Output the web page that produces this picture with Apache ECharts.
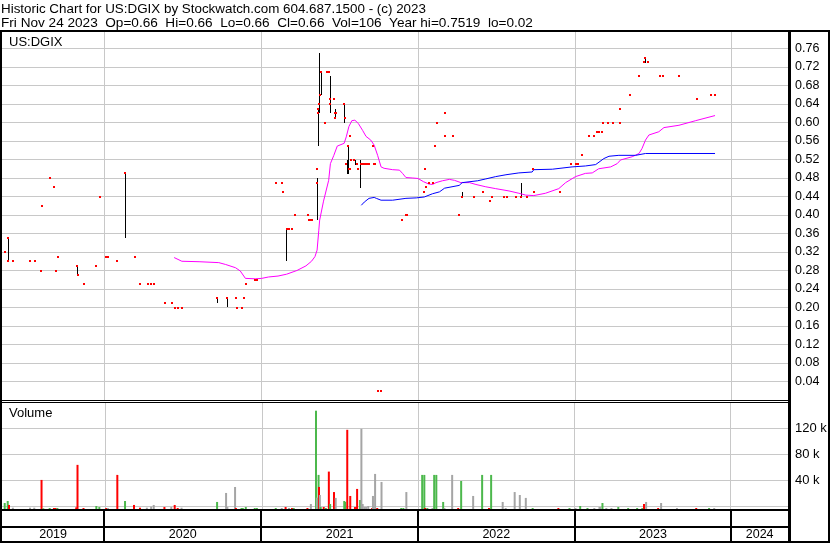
<!DOCTYPE html>
<html><head><meta charset="utf-8">
<script src="https://cdn.jsdelivr.net/npm/echarts@6/dist/echarts.min.js"></script>
<style>html,body{margin:0;padding:0;background:#fff}#c{width:830px;height:543px}</style>
</head><body><div id="c"></div>
<script>
// ---------- DATA ----------
const titleLine1 = 'Historic Chart for US:DGIX by Stockwatch.com 604.687.1500 - (c) 2023';
const titleLine2 = 'Fri Nov 24 2023  Op=0.66  Hi=0.66  Lo=0.66  Cl=0.66  Vol=106  Year hi=0.7519  lo=0.02';
const symbolName = 'US:DGIX';

const closeDates = ['2019-05-14','2019-05-21','2019-05-22','2019-06-02','2019-07-12','2019-07-23','2019-08-08','2019-08-10','2019-08-27','2019-09-06','2019-09-10','2019-09-15','2019-10-29','2019-10-31','2019-11-14','2019-12-14','2019-12-22',
'2020-01-06','2020-01-11','2020-02-01','2020-02-19','2020-03-12','2020-03-25','2020-04-11','2020-04-20','2020-04-27','2020-05-22','2020-06-07','2020-06-14','2020-06-21','2020-06-30','2020-09-21','2020-10-12','2020-11-02','2020-11-05','2020-11-16','2020-11-21','2020-11-27','2020-12-18','2020-12-23',
'2021-02-05','2021-02-19','2021-02-21','2021-03-02','2021-03-07','2021-03-14','2021-03-20','2021-04-19','2021-04-22','2021-04-26','2021-04-29','2021-05-10','2021-05-11','2021-05-12','2021-05-14','2021-05-16','2021-05-18','2021-05-21','2021-05-29','2021-06-03','2021-06-05','2021-06-08','2021-06-09','2021-06-11','2021-06-20','2021-06-21','2021-06-22','2021-06-23','2021-07-12','2021-07-14','2021-07-17','2021-07-21','2021-07-25','2021-07-26','2021-07-27','2021-07-29','2021-08-05','2021-08-11','2021-08-14',
'2021-08-22','2021-08-23','2021-08-24','2021-08-25','2021-08-26','2021-08-27','2021-08-30','2021-08-31','2021-09-01','2021-09-02','2021-09-03','2021-09-07','2021-09-08','2021-09-09','2021-09-18','2021-09-20','2021-09-21','2021-09-22','2021-09-23','2021-09-24','2021-09-29','2021-10-07','2021-11-25','2021-12-03','2021-12-06',
'2022-01-14','2022-01-18','2022-01-20','2022-01-26','2022-02-06','2022-02-10','2022-02-15','2022-03-04','2022-03-06','2022-03-24','2022-04-07','2022-04-13','2022-05-12','2022-06-02','2022-06-18','2022-06-23','2022-07-21','2022-07-28','2022-08-17','2022-08-28','2022-09-11','2022-09-27','2022-09-28','2022-11-28','2022-12-23',
'2023-01-03','2023-01-08','2023-01-17','2023-02-03','2023-02-16','2023-02-22','2023-02-26','2023-03-05','2023-03-09','2023-03-19','2023-03-31','2023-04-16','2023-04-17','2023-05-09','2023-05-31','2023-06-11','2023-06-15','2023-06-20','2023-07-18','2023-07-26','2023-09-01','2023-10-14','2023-11-14','2023-11-24'];
const closeValues = [0.32,0.35,0.30,0.30,0.30,0.30,0.28,0.42,0.48,0.46,0.28,0.31,0.29,0.27,0.25,0.29,0.44,
0.31,0.31,0.30,0.49,0.31,0.25,0.25,0.25,0.25,0.21,0.21,0.20,0.20,0.20,0.22,0.22,0.22,0.20,0.20,0.22,0.25,0.26,0.26,
0.47,0.47,0.45,0.37,0.37,0.37,0.40,0.40,0.39,0.39,0.39,0.47,0.50,0.63,0.62,0.64,0.66,0.71,0.60,0.71,0.71,0.71,0.64,0.65,0.65,0.62,0.61,0.62,0.64,0.61,0.51,0.55,0.50,0.57,0.50,0.52,0.52,0.51,0.50,
0.51,0.51,0.51,0.51,0.51,0.51,0.51,0.51,0.51,0.51,0.51,0.51,0.51,0.51,0.55,0.51,0.51,0.51,0.51,0.51,0.02,0.02,0.39,0.40,0.40,
0.45,0.50,0.46,0.47,0.47,0.55,0.60,0.62,0.57,0.57,0.40,0.44,0.44,0.45,0.43,0.44,0.44,0.44,0.44,0.44,0.44,0.50,0.45,0.45,0.51,
0.51,0.51,0.53,0.57,0.57,0.58,0.58,0.58,0.60,0.60,0.60,0.60,0.63,0.66,0.70,0.73,0.74,0.73,0.70,0.70,0.70,0.65,0.66,0.66];

const rangeDates = ['2019-05-22','2019-10-30','2020-02-19','2020-09-21','2020-10-12','2021-02-27','2021-05-10','2021-05-12','2021-05-16','2021-05-21','2021-06-09','2021-06-21','2021-07-13','2021-07-19','2021-07-21','2021-08-08','2021-08-20','2022-04-13','2022-08-28','2023-06-15'];
const rangeLow  = [0.30,0.27,0.35,0.21,0.20,0.30,0.39,0.55,0.62,0.66,0.62,0.61,0.60,0.49,0.49,0.51,0.46,0.44,0.44,0.73];
const rangeHigh = [0.35,0.29,0.49,0.22,0.22,0.37,0.48,0.63,0.75,0.71,0.70,0.63,0.64,0.52,0.55,0.52,0.52,0.45,0.47,0.74];

const maShortDates = ['2020-06-12','2020-06-30','2020-08-09','2020-09-24','2020-10-10','2020-11-02','2020-11-13','2020-11-25','2020-12-18','2021-01-02','2021-01-18','2021-02-09','2021-03-01','2021-03-25','2021-04-15','2021-04-28','2021-05-06','2021-05-11','2021-05-15','2021-05-17','2021-05-26','2021-06-07','2021-06-11','2021-06-19','2021-06-27','2021-07-13','2021-07-18','2021-07-24','2021-07-31','2021-08-07','2021-08-15','2021-08-25','2021-09-02','2021-09-13','2021-09-21','2021-09-29','2021-10-07','2021-10-14','2021-11-03','2021-11-19','2021-11-26','2021-12-04','2021-12-20',
'2022-01-01','2022-01-14','2022-01-26','2022-02-04','2022-02-12','2022-02-27','2022-03-15','2022-03-27','2022-04-11','2022-05-01','2022-05-16','2022-06-08','2022-07-01','2022-08-01','2022-08-24','2022-09-09','2022-09-28','2022-10-25','2022-11-25','2022-12-11',
'2023-01-03','2023-01-26','2023-02-11','2023-02-26','2023-03-26','2023-04-10','2023-04-18','2023-05-15','2023-05-31','2023-06-07','2023-06-15','2023-06-23','2023-07-16','2023-07-28','2023-09-01','2023-10-10','2023-11-24'];
const maShortValues = [0.308,0.300,0.299,0.297,0.293,0.286,0.279,0.263,0.262,0.263,0.266,0.268,0.272,0.280,0.290,0.300,0.310,0.324,0.367,0.389,0.430,0.475,0.511,0.529,0.549,0.555,0.569,0.591,0.604,0.605,0.598,0.583,0.570,0.562,0.551,0.529,0.504,0.501,0.498,0.497,0.490,0.481,0.480,
0.479,0.472,0.467,0.466,0.470,0.474,0.477,0.475,0.470,0.470,0.466,0.461,0.457,0.452,0.447,0.443,0.442,0.447,0.457,0.470,
0.483,0.490,0.491,0.500,0.504,0.511,0.519,0.526,0.533,0.544,0.562,0.573,0.580,0.589,0.594,0.604,0.615];

const maLongDates = ['2021-08-22','2021-08-29','2021-09-09','2021-09-21','2021-09-26','2021-10-07','2021-11-03','2021-12-04','2021-12-28',
'2022-01-16','2022-02-04','2022-02-20','2022-03-04','2022-03-07','2022-04-07','2022-04-14','2022-05-20','2022-06-08','2022-07-01','2022-07-25','2022-08-24','2022-09-24','2022-09-28','2022-11-10','2022-12-26',
'2023-01-26','2023-02-19','2023-03-10','2023-03-22','2023-04-14','2023-05-23','2023-06-15','2023-11-24'];
const maLongValues = [0.421,0.428,0.436,0.438,0.436,0.432,0.432,0.436,0.437,
0.439,0.446,0.450,0.458,0.461,0.464,0.470,0.474,0.478,0.483,0.487,0.491,0.493,0.498,0.499,0.504,
0.506,0.509,0.522,0.527,0.529,0.529,0.533,0.533];

const volDates = ['2019-05-12','2019-05-19','2019-05-22','2019-05-31','2019-07-10','2019-07-20','2019-08-06','2019-08-10','2019-08-25','2019-09-04','2019-09-08','2019-09-12','2019-10-26','2019-10-29','2019-11-12','2019-12-12','2019-12-19',
'2020-01-04','2020-01-08','2020-01-30','2020-02-17','2020-03-09','2020-03-23','2020-04-08','2020-04-18','2020-04-24','2020-05-19','2020-06-04','2020-06-12','2020-06-19','2020-06-28','2020-09-19','2020-10-10','2020-10-13','2020-10-31','2020-11-02','2020-11-15','2020-11-18','2020-11-25','2020-12-16','2020-12-21',
'2021-02-03','2021-02-17','2021-02-26','2021-03-06','2021-03-13','2021-03-17','2021-04-18','2021-04-26','2021-05-08','2021-05-10','2021-05-14','2021-05-15','2021-05-17','2021-05-19','2021-05-26','2021-05-31','2021-06-07','2021-06-10','2021-06-19','2021-06-23','2021-07-13','2021-07-15','2021-07-20','2021-07-27','2021-08-07','2021-08-10','2021-08-12','2021-08-19','2021-08-22','2021-08-25','2021-08-29','2021-09-02','2021-09-07','2021-09-16','2021-09-18','2021-09-23','2021-09-28','2021-10-08','2021-11-23','2021-11-28','2021-12-05',
'2022-01-11','2022-01-16','2022-01-18','2022-01-23','2022-02-04','2022-02-08','2022-02-13','2022-03-01','2022-03-04','2022-03-22','2022-04-05','2022-04-12','2022-05-10','2022-05-31','2022-06-16','2022-06-21','2022-07-18','2022-07-25','2022-08-15','2022-08-27','2022-09-10','2022-09-26','2022-11-25','2022-12-21',
'2023-01-04','2023-01-15','2023-02-01','2023-02-17','2023-03-01','2023-03-03','2023-03-08','2023-03-17','2023-03-29','2023-04-14','2023-05-07','2023-05-28','2023-06-09','2023-06-13','2023-06-18','2023-07-16','2023-07-23','2023-08-29','2023-10-13','2023-11-12','2023-11-24'];
const volValues = [9200,12300,6200,2000,2000,2000,44600,1000,1500,1500,1500,1500,2500,67700,1500,4600,3000,
1500,1500,52300,12300,6200,2000,2000,3600,6200,3000,3000,6200,1500,2000,10800,24600,3000,33800,1500,1500,1500,3000,1500,1500,
1500,1500,3000,1500,1500,1500,1500,7700,150800,17400,52300,33800,21500,3000,3000,1500,57400,7700,26000,17000,12300,10800,121500,20000,3000,3000,30800,13800,123000,7700,3000,3000,4600,1500,20000,53800,1500,41500,1500,1500,26000,
52300,52300,1500,1500,1500,52300,52300,10800,1500,52300,1500,43000,20000,52300,1500,52300,10800,1500,26000,21500,17000,1500,1500,1500,
1500,4600,1500,1500,3000,3000,9200,1500,1500,3000,1500,1500,1500,7700,10800,1500,9200,1500,1500,1500,1500];
const volDir = ['u','u','d','n','n','n','d','u','u','d','d','u','d','d','d','u','u',
'd','n','d','u','d','d','n','n','n','d','n','d','d','n','u','n','n','n','d','u','u','u','u','u',
'u','n','d','n','d','u','d','n','u','n','u','d','n','u','d','u','d','u','d','n','u','u','d','d','d','d','d','u','n','n','n','n','n','d','n','n','d','n','u','u','n',
'u','u','d','u','n','u','u','u','n','n','d','u','n','u','d','u','n','n','n','n','n','u','d','u',
'n','u','u','n','n','n','u','n','n','u','u','u','u','d','n','d','n','n','d','u','n'];

const years = ['2019','2020','2021','2022','2023','2024'];
const yearStarts = ['2019-01-01','2020-01-01','2021-01-01','2022-01-01','2023-01-01','2024-01-01'];
const yearEnds = ['2020-01-01','2021-01-01','2022-01-01','2023-01-01','2024-01-01','2025-01-01'];
const axisStart = '2019-05-08';
const axisEnd = '2024-05-12';
const priceMin = 0, priceMax = 0.8, priceStep = 0.04;
const volTickMax = 160000, volStep = 40000;

// ---------- CHART ----------
const FONT = '"Liberation Sans", Arial, sans-serif';
const GRID = '#c8c8c8';
const dirColor = {u:'#4cb84c', d:'#ff0000', n:'#a5a5a5'};
const chart = echarts.init(document.getElementById('c'), null, {renderer:'canvas'});

const L = 2, R = 42;
const grids = [
  {left:L, right:R, top:30, height:370},
  {left:L, right:R, top:402, height:104.3},
  {left:L, right:R, top:402, height:107},
  {left:L, right:R, top:509, height:34}
];
const xAxes = grids.map((g,i)=>({type:'time', gridIndex:i, min:axisStart, max:axisEnd, show:false}));
const volBarMax = volTickMax * grids[2].height / grids[1].height;

const yAxes = [
  {type:'value', gridIndex:0, position:'right', min:priceMin, max:priceMax, interval:priceStep,
   axisLine:{show:false}, axisTick:{show:false},
   splitLine:{show:true, lineStyle:{color:GRID, width:1}},
   axisLabel:{show:true, margin:7, color:'#000', fontSize:12.5, fontFamily:FONT, showMinLabel:false, showMaxLabel:false,
     formatter:v=>v.toFixed(2)}},
  {type:'value', gridIndex:1, position:'right', min:0, max:volTickMax, interval:volStep,
   axisLine:{show:false}, axisTick:{show:false},
   splitLine:{show:true, lineStyle:{color:GRID, width:1}},
   axisLabel:{show:true, margin:7, color:'#000', fontSize:13, fontFamily:FONT, showMinLabel:false, showMaxLabel:false,
     formatter:v=>(v/1000)+' k'}},
  {type:'value', gridIndex:2, min:0, max:volBarMax, show:false, splitLine:{show:false}},
  {type:'value', gridIndex:3, min:0, max:1, show:false, splitLine:{show:false}}
];

function yearLineSeries(xi, yi){
  return {type:'custom', xAxisIndex:xi, yAxisIndex:yi, z:1, silent:true,
    data: yearStarts.map(d=>[d]), encode:{x:0},
    renderItem:(params, api)=>{
      const cs = params.coordSys;
      const x = Math.round(api.coord([api.value(0), 0])[0]) + 0.5;
      if (x <= cs.x || x >= cs.x + cs.width) return null;
      return {type:'line', shape:{x1:x, y1:cs.y, x2:x, y2:cs.y+cs.height}, style:{stroke:GRID, lineWidth:1}};
    }};
}

const series = [
  yearLineSeries(0,0),
  yearLineSeries(2,2),
  {type:'custom', name:'range', xAxisIndex:0, yAxisIndex:0, z:3,
   data: rangeDates.map((d,i)=>[d, rangeLow[i], rangeHigh[i]]), encode:{x:0, y:[1,2]},
   renderItem:(params, api)=>{
     const p1 = api.coord([api.value(0), api.value(1)]);
     const p2 = api.coord([api.value(0), api.value(2)]);
     const x = Math.round(p1[0]);
     return {type:'rect', shape:{x:x, y:Math.round(p2[1]), width:1, height:Math.max(1, Math.round(p1[1]-p2[1]))}, style:{fill:'#000'}};
   }},
  {type:'line', name:'maShort', xAxisIndex:0, yAxisIndex:0, z:4, showSymbol:false, symbol:'none',
   data: maShortDates.map((d,i)=>[d, maShortValues[i]]), lineStyle:{color:'#ff00ff', width:1}},
  {type:'line', name:'maLong', xAxisIndex:0, yAxisIndex:0, z:4, showSymbol:false, symbol:'none',
   data: maLongDates.map((d,i)=>[d, maLongValues[i]]), lineStyle:{color:'#0000ff', width:1}},
  {type:'custom', name:'close', xAxisIndex:0, yAxisIndex:0, z:5,
   data: closeDates.map((d,i)=>[d, closeValues[i]]), encode:{x:0, y:1},
   renderItem:(params, api)=>{
     const p = api.coord([api.value(0), api.value(1)]);
     return {type:'rect', shape:{x:Math.round(p[0])-1, y:Math.round(p[1])-1, width:2, height:2}, style:{fill:'#ff0000'}};
   }},
  {type:'bar', name:'volume', xAxisIndex:2, yAxisIndex:2, z:3, barWidth:2,
   data: volDates.map((d,i)=>({value:[d, volValues[i]], itemStyle:{color:dirColor[volDir[i]]}}))},
  {type:'custom', name:'years', xAxisIndex:3, yAxisIndex:3, z:6, silent:true,
   data: yearStarts.map((d,i)=>[d, yearEnds[i]]), encode:{x:[0,1]},
   renderItem:(params, api)=>{
     const cs = params.coordSys;
     const s = api.coord([api.value(0), 0])[0];
     const e = api.coord([api.value(1), 0])[0];
     const a = Math.max(s, cs.x), b = Math.min(e, cs.x + cs.width);
     const kids = [];
     if (s > cs.x && s < cs.x + cs.width) {
       const xs = Math.round(s);
       kids.push({type:'rect', shape:{x:xs-1, y:509, width:2, height:33}, style:{fill:'#000'}});
     }
     kids.push({type:'text', style:{text:years[params.dataIndex], x:(a+b)/2, y:535, align:'center', verticalAlign:'middle',
       font:'12.5px ' + FONT, fill:'#000'}});
     return {type:'group', children:kids};
   }}
];

const blk = (x,y,w,h)=>({type:'rect', shape:{x,y,width:w,height:h}, style:{fill:'#000'}, z:100, silent:true});
const txt = (t,x,y,size)=>({type:'text', style:{text:t, x, y, font:size+'px '+FONT, fill:'#000', verticalAlign:'middle'}, z:100, silent:true});

chart.setOption({
  animation:false,
  backgroundColor:'#fff',
  grid: grids,
  xAxis: xAxes,
  yAxis: yAxes,
  series: series,
  graphic: [
    txt(titleLine1, 1, 9, 13.4),
    txt(titleLine2, 1, 23, 13.6),
    txt(symbolName, 9, 42, 13),
    txt('Volume', 9, 413, 13),
    blk(0,30,830,2),
    blk(0,30,2,513),
    blk(828,30,2,513),
    blk(788,30,3,513),
    blk(0,400,789,1),
    blk(0,402,789,1),
    blk(0,509,789,2),
    blk(0,526,789,2),
    blk(0,541,830,2)
  ]
});
</script></body></html>
